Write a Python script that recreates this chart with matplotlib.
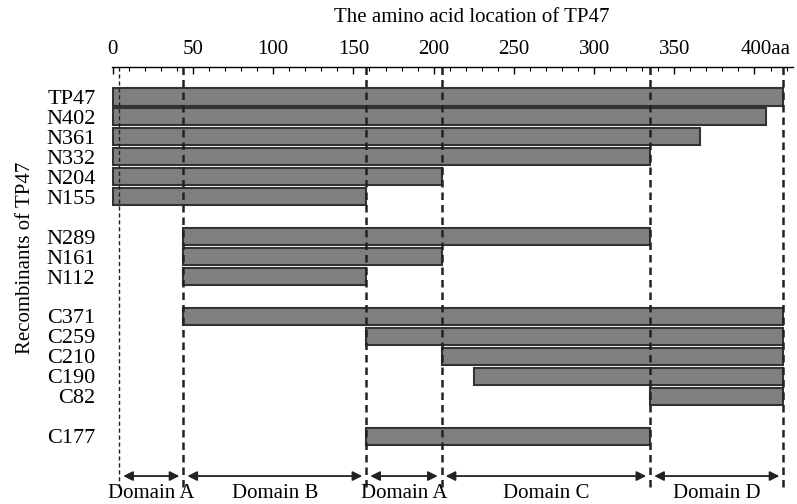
import matplotlib
matplotlib.use("Agg")
import matplotlib.pyplot as plt
import matplotlib.transforms as mtransforms

plt.rcParams['font.family'] = ['Liberation Serif', 'DejaVu Serif']

# recombinant constructs (start / end on the TP47 amino acid axis)
names = ['TP47', 'N402', 'N361', 'N332', 'N204', 'N155',
         'N289', 'N161', 'N112',
         'C371', 'C259', 'C210', 'C190', 'C82',
         'C177']
rows = [0, 1, 2, 3, 4, 5, 7, 8, 9, 11, 12, 13, 14, 15, 17]
starts = [0, 0, 0, 0, 0, 0, 44, 44, 44, 44, 158, 205, 225, 335, 158]
ends = [418, 407, 366, 335, 205, 158, 335, 205, 158, 418, 418, 418, 418, 418, 335]

# domain borders
bounds = [4, 44, 158, 205, 335, 418]
domains = ['Domain A', 'Domain B', 'Domain A', 'Domain C', 'Domain D']

ticks = [0, 50, 100, 150, 200, 250, 300, 350, 400]
ticklabels = ['0', '50', '100', '150', '200', '250', '300', '350', '400aa']

fig = plt.figure(figsize=(7.97, 5.04), dpi=100)
ax = fig.add_axes([112/797, 4/504, (793-112)/797, (504-67-4)/504])

widths = [e - s for s, e in zip(starts, ends)]
ax.barh(rows, widths, left=starts, height=0.86, color='#808080',
        edgecolor='#333333', linewidth=1.5, zorder=2)

# dashed domain borders
for i, b in enumerate(bounds):
    ax.plot([b, b], [-1.5, 19.7], color='#222222', lw=1.0 if i == 0 else 1.8,
            ls=(0, (3, 2)), zorder=3, clip_on=False)

# domain arrows + names
for i, d in enumerate(domains):
    a, b = bounds[i], bounds[i + 1]
    ax.annotate('', xy=(a + 2.5, 19), xytext=(b - 2.5, 19),
                arrowprops=dict(arrowstyle='<|-|>', color='#222222', lw=1.3,
                                mutation_scale=14, shrinkA=0, shrinkB=0))
    ax.text((a + b) / 2, 19.85, d, ha='center', va='center', fontsize=15)

ax.set_xlim(-0.5, 424)
ax.set_ylim(20.2, -1.5)

ax.xaxis.tick_top()
ax.set_xticks(ticks)
ax.set_xticklabels(ticklabels, fontsize=15)
ax.set_xticks(range(0, 421, 10), minor=True)
ax.tick_params(axis='x', which='major', direction='in', length=5, width=1, pad=6)
ax.tick_params(axis='x', which='minor', direction='in', length=3, width=0.8)
last = ax.get_xticklabels()[-1]
last.set_transform(last.get_transform() +
                   mtransforms.ScaledTranslation(11/100, 0, fig.dpi_scale_trans))

ax.set_yticks(rows)
ax.set_yticklabels(names, fontsize=16)
ax.tick_params(axis='y', length=0, pad=12)

for s in ['bottom', 'left', 'right']:
    ax.spines[s].set_visible(False)
ax.spines['top'].set_linewidth(1.0)

fig.text(472/797, 1 - 18/504, 'The amino acid location of TP47',
         ha='center', va='center', fontsize=15)
fig.text(25/797, 1 - 258/504, 'Recombinants of TP47', rotation=90,
         ha='center', va='center', fontsize=15)

fig.savefig('out.png', dpi=100)
